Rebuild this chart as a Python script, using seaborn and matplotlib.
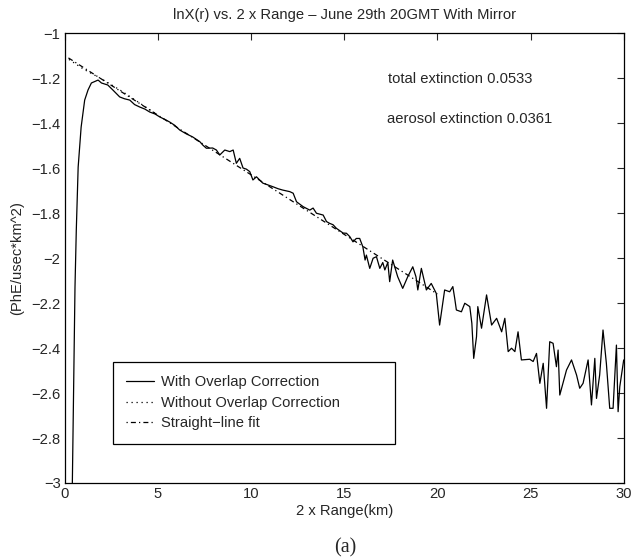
import matplotlib
matplotlib.use('Agg')
import matplotlib.pyplot as plt
import seaborn as sns

# lnX(r) with overlap correction
range_km = [0.40, 0.48, 0.55, 0.62, 0.72, 0.88, 1.07, 1.25, 1.43, 1.79,
            1.97, 2.31, 2.58, 2.95, 3.20, 3.49, 3.75, 4.03, 4.30, 4.56,
            4.85, 5.10, 5.40, 5.64, 5.90, 6.17, 6.50, 6.87, 7.10, 7.25,
            7.41, 7.60, 7.94, 8.14, 8.32, 8.59, 8.86, 9.04, 9.21, 9.39,
            9.57, 9.75, 9.93, 10.10, 10.29, 10.63, 10.90, 11.17, 11.45, 11.70,
            12.08, 12.26, 12.44, 12.80, 13.15, 13.33, 13.51, 13.87, 14.05, 14.22,
            14.40, 14.58, 14.94, 15.12, 15.30, 15.47, 15.65, 15.83, 16.00, 16.12,
            16.19, 16.37, 16.55, 16.73, 16.91, 17.07, 17.18, 17.34, 17.44, 17.60,
            17.87, 18.14, 18.41, 18.68, 18.85, 18.95, 19.14, 19.41, 19.67, 19.94,
            20.12, 20.21, 20.39, 20.66, 20.83, 20.93, 21.02, 21.29, 21.47, 21.74,
            21.85, 21.95, 22.10, 22.17, 22.37, 22.64, 22.91, 23.18, 23.45, 23.62,
            23.80, 23.98, 24.16, 24.33, 24.51, 24.96, 25.14, 25.32, 25.50, 25.68,
            25.86, 26.03, 26.21, 26.39, 26.48, 26.57, 26.93, 27.20, 27.47, 27.64,
            27.82, 28.09, 28.27, 28.45, 28.54, 28.71, 28.89, 29.07, 29.25, 29.43,
            29.61, 29.70, 29.79, 30.00]
lnx_corr = [-3.05, -2.56, -2.13, -1.876, -1.596, -1.418, -1.298, -1.253, -1.222, -1.209,
            -1.222, -1.231, -1.253, -1.284, -1.292, -1.298, -1.318, -1.329, -1.338, -1.351,
            -1.360, -1.373, -1.385, -1.396, -1.410, -1.431, -1.447, -1.462, -1.475, -1.483,
            -1.498, -1.512, -1.511, -1.520, -1.542, -1.520, -1.527, -1.520, -1.579, -1.557,
            -1.600, -1.605, -1.616, -1.653, -1.639, -1.667, -1.675, -1.683, -1.692, -1.698,
            -1.705, -1.712, -1.750, -1.772, -1.787, -1.778, -1.801, -1.809, -1.838, -1.846,
            -1.852, -1.868, -1.889, -1.890, -1.905, -1.928, -1.913, -1.913, -1.950, -2.009,
            -1.987, -2.046, -2.001, -1.994, -2.046, -2.020, -2.053, -2.020, -2.105, -2.009,
            -2.083, -2.135, -2.083, -2.039, -2.083, -2.142, -2.046, -2.142, -2.113, -2.157,
            -2.298, -2.246, -2.142, -2.150, -2.127, -2.179, -2.231, -2.239, -2.201, -2.216,
            -2.290, -2.446, -2.350, -2.216, -2.312, -2.164, -2.298, -2.268, -2.328, -2.268,
            -2.416, -2.401, -2.416, -2.328, -2.453, -2.450, -2.460, -2.424, -2.557, -2.468,
            -2.668, -2.372, -2.379, -2.483, -2.409, -2.609, -2.498, -2.453, -2.520, -2.579,
            -2.557, -2.453, -2.653, -2.446, -2.624, -2.520, -2.320, -2.468, -2.668, -2.668,
            -2.387, -2.683, -2.572, -2.453]

# without overlap correction (only differs near the start)
range_raw = [0.0, 1.0, 2.0, 3.0, 4.0, 5.0]
lnx_raw = [-1.105, -1.160, -1.205, -1.255, -1.310, -1.365]

# straight-line fit endpoints
fit_x = [0.0, 20.0]
fit_y = [-1.10, -2.16]

x_ticks = [0, 5, 10, 15, 20, 25, 30]
y_ticks = [-3, -2.8, -2.6, -2.4, -2.2, -2, -1.8, -1.6, -1.4, -1.2, -1]

sns.set_style('white')
plt.rcParams['font.family'] = ['Liberation Sans', 'DejaVu Sans']
plt.rcParams['xtick.direction'] = 'in'
plt.rcParams['ytick.direction'] = 'in'

fs = 10.6

fig = plt.figure(figsize=(6.41, 5.6), dpi=100)
ax = fig.add_axes([0.101, 0.1375, 0.872, 0.8035])

sns.lineplot(x=range_km, y=lnx_corr, color='black', lw=0.9, ax=ax,
             label='With Overlap Correction', sort=False)
sns.lineplot(x=range_raw, y=lnx_raw, color='black', lw=0.9, ax=ax,
             linestyle=(0, (1, 3)), label='Without Overlap Correction')
sns.lineplot(x=fit_x, y=fit_y, color='black', lw=0.9, ax=ax,
             linestyle=(0, (1, 2.5, 4, 2.5)), label='Straight\u2212line fit')

ax.set_xlim(0, 30)
ax.set_ylim(-3, -1)
ax.set_xticks(x_ticks)
ax.set_yticks(y_ticks)
ax.set_xticklabels([str(t) for t in x_ticks])
ax.set_yticklabels([('%g' % t).replace('-', '\u2212') for t in y_ticks])
ax.tick_params(top=True, right=True, length=5, width=0.8, labelsize=fs, pad=3)
for s in ax.spines.values():
    s.set_linewidth(0.9)
    s.set_color('black')

ax.set_title('lnX(r) vs. 2 x Range \u2013 June 29th 20GMT With Mirror', fontsize=fs, pad=10)
ax.set_xlabel('2 x Range(km)', fontsize=fs, labelpad=2)
ax.set_ylabel('(PhE/usec*km^2)', fontsize=fs, labelpad=5)

ax.text(0.578, 0.897, 'total extinction 0.0533', transform=ax.transAxes, fontsize=fs, va='center')
ax.text(0.576, 0.81, 'aerosol extinction 0.0361', transform=ax.transAxes, fontsize=fs, va='center')

leg = ax.legend(loc='upper left', bbox_to_anchor=(0.086, 0.269, 0.504, 0.0), mode='expand',
                borderaxespad=0, fontsize=fs, frameon=True, fancybox=False,
                handlelength=1.9, handletextpad=0.5, borderpad=0.9, labelspacing=0.45,
                edgecolor='black', framealpha=1)
leg.get_frame().set_linewidth(0.9)

fig.text(0.538, 0.013, '(a)', fontsize=14.5, family='Liberation Serif', ha='center')

fig.savefig('out.png', dpi=100)
